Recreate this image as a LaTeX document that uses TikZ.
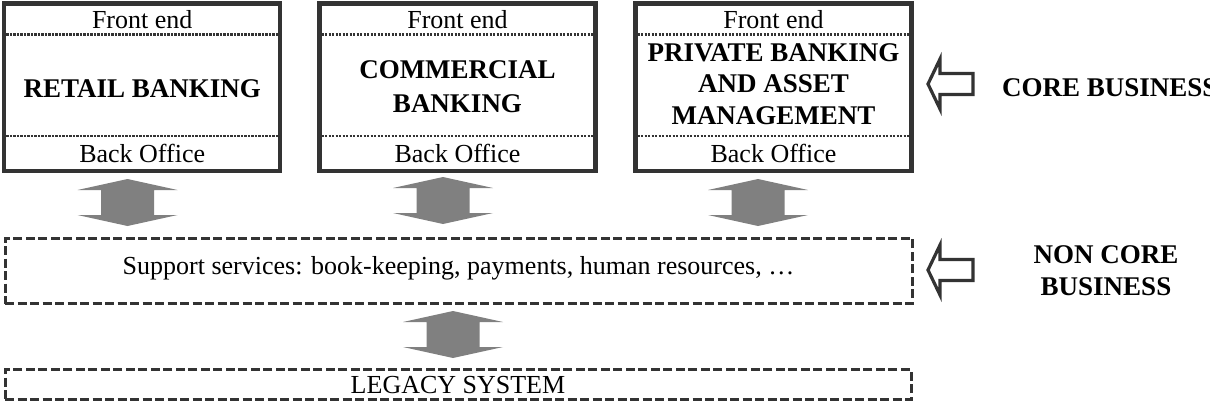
\documentclass[tikz,border=0pt]{standalone}
\usepackage{fontspec}
\setmainfont{Liberation Serif}
\usetikzlibrary{calc}
\definecolor{edge}{HTML}{333333}
\definecolor{arrowgray}{HTML}{808080}

\begin{document}
\begin{tikzpicture}[x=1pt,y=-1pt,
  every node/.style={inner sep=0pt, outer sep=0pt},
  txt/.style={font=\fontsize{26}{32}\selectfont, anchor=base},
  bold/.style={font=\fontsize{27}{32}\selectfont\bfseries, anchor=base, align=center},
  bankbox/.style={draw=edge, line width=4.5pt, minimum width=276pt, minimum height=167.3pt},
  sepline/.style={draw=edge, line width=2.5pt, dash pattern=on 2.2pt off 1.3pt},
  dashbox/.style={draw=edge, line width=3pt, dash pattern=on 9pt off 3.5pt,
                  font=\fontsize{26}{32}\selectfont},
  updown/.pic={
    \fill[arrowgray] (0,-23.5) -- (50,-12.5) -- (26.5,-12.5) -- (26.5,12.5) -- (50,12.5)
      -- (0,23.5) -- (-50,12.5) -- (-26.5,12.5) -- (-26.5,-12.5) -- (-50,-12.5) -- cycle;
  },
  hollowleft/.pic={
    \draw[edge, line width=3.2pt, line join=miter, miter limit=10]
      (-22.5,0) -- (-10.5,-25) -- (-10.5,-10.5) -- (22.5,-10.5) -- (22.5,10.5)
      -- (-10.5,10.5) -- (-10.5,25) -- cycle;
  }
]
\useasboundingbox (0,0) rectangle (1210,405);

% --- core business units ---
\node[bankbox] (retail) at (142.2,87.35) {};
\node[bankbox] (commercial) at (457.5,87.35) {};
\node[bankbox] (private) at (773.5,87.35) {};

\foreach \b in {retail,commercial,private}{
  \draw[sepline] ($(\b.north west)+(2.2,31)$) -- ($(\b.north east)+(-2.2,31)$);
  \draw[sepline] ($(\b.south west)+(2.2,-35)$) -- ($(\b.south east)+(-2.2,-35)$);
}

\node[txt] (retail-fe) at (142.2,28) {Front end};
\node[txt] (commercial-fe) at (457.5,28) {Front end};
\node[txt] (private-fe) at (773.5,28) {Front end};
\node[txt] (retail-bo) at (142.2,162) {Back Office};
\node[txt] (commercial-bo) at (457.5,162) {Back Office};
\node[txt] (private-bo) at (773.5,162) {Back Office};

% multi-line labels are placed by the baseline of their last line
\node[bold] (retail-name) at (142.2,97) {RETAIL BANKING};
\node[bold, font=\fontsize{27}{34}\selectfont\bfseries] (commercial-name) at (457.5,112)
  {COMMERCIAL\\BANKING};
\node[bold, font=\fontsize{27}{31.5}\selectfont\bfseries] (private-name) at (773.5,124)
  {PRIVATE BANKING\\AND ASSET\\MANAGEMENT};

% --- support layer and legacy system ---
\node[dashbox, minimum width=907pt, minimum height=65.5pt, text height=12.5pt, text depth=6pt]
  (support) at (458.5,270.75)
  {Support services: book-keeping, payments, human resources, \dots};
\node[dashbox, minimum width=906pt, minimum height=30pt, text height=17pt, text depth=0pt]
  (legacy) at (458,384.5) {LEGACY SYSTEM};

% --- two-way links ---
\pic (link1) at (127.5,202.5) {updown};
\pic (link2) at (443,200.5) {updown};
\pic (link3) at (758,202.5) {updown};
\pic (link4) at (453,334.5) {updown};

% --- layer labels ---
\pic (pcore) at (950.5,84) {hollowleft};
\pic (pnoncore) at (950.5,270) {hollowleft};
\node[bold, anchor=base west] (core) at (1002,96) {CORE BUSINESS};
\node[bold] (noncore) at (1106,295) {NON CORE\\BUSINESS};

\end{tikzpicture}
\end{document}
